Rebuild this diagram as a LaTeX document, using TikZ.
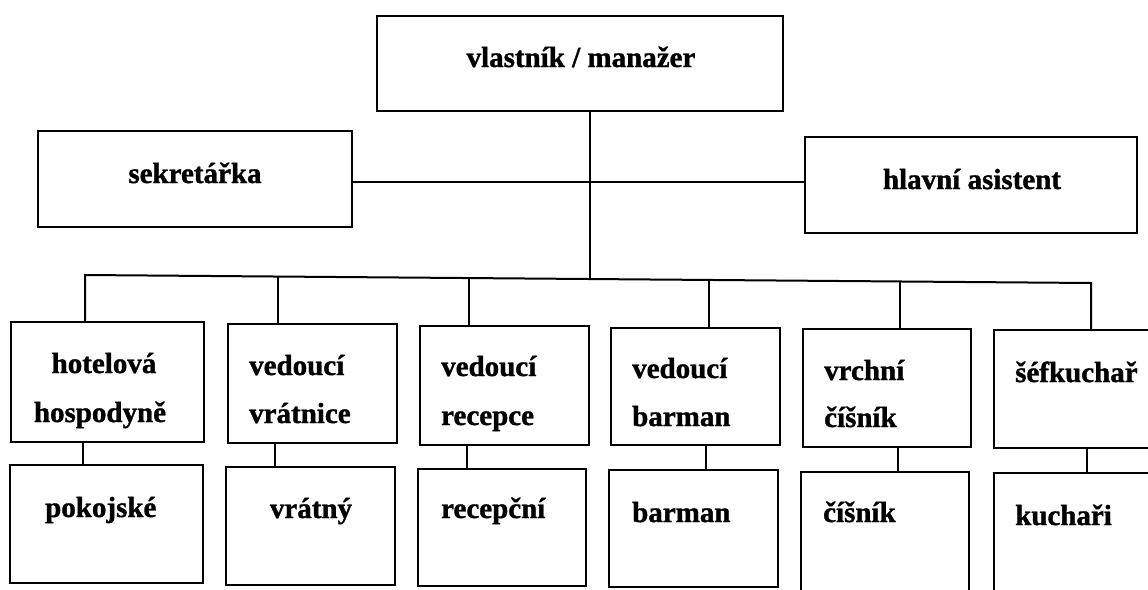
\documentclass[tikz,border=0pt]{standalone}
\usepackage{fontspec}
\setmainfont{Liberation Serif}[BoldFeatures={FakeBold=1.2}]
\begin{document}
\begin{tikzpicture}[x=1pt,y=-1pt,
  box/.style={draw, line width=2pt, rectangle, inner sep=0pt, outer sep=0pt, anchor=north west},
  lbl/.style={inner sep=0pt, font=\fontsize{29}{34}\selectfont\bfseries},
  link/.style={line width=2pt}]
\useasboundingbox (0,0) rectangle (1148,589);
\clip (0,0) rectangle (1148,589);
\fill[white] (0,0) rectangle (1148,589);
% top level
\node[box, minimum width=406pt, minimum height=95pt] (top) at (377,16) {};
\node[box, minimum width=314pt, minimum height=96pt] (sek) at (38,131) {};
\node[box, minimum width=332pt, minimum height=96pt] (hla) at (805,137) {};
\node[lbl, anchor=base] (ttop) at (581,67) {vlastník / manažer};
\node[lbl, anchor=base] (tsek) at (195,183) {sekretářka};
\node[lbl, anchor=base] (thla) at (972,189) {hlavní asistent};
% row 1
\node[box, minimum width=193pt, minimum height=120pt] (b1) at (11,322) {};
\node[box, minimum width=169pt, minimum height=119pt] (b2) at (228,324) {};
\node[box, minimum width=169pt, minimum height=119pt] (b3) at (420,326) {};
\node[box, minimum width=169pt, minimum height=117pt] (b4) at (611,328) {};
\node[box, minimum width=168pt, minimum height=118pt] (b5) at (803,329) {};
\node[box, minimum width=170pt, minimum height=118pt] (b6) at (994,330) {};
% row 2
\node[box, minimum width=193pt, minimum height=118pt] (c1) at (10,465) {};
\node[box, minimum width=169pt, minimum height=118pt] (c2) at (226,467) {};
\node[box, minimum width=168pt, minimum height=117pt] (c3) at (418,469) {};
\node[box, minimum width=169pt, minimum height=117pt] (c4) at (609,470) {};
\node[box, minimum width=168pt, minimum height=130pt] (c5) at (801,472) {};
\node[box, minimum width=170pt, minimum height=130pt] (c6) at (994,473) {};
% texts row 1
\node[lbl, anchor=base] (t1a) at (104,373) {hotelová};
\node[lbl, anchor=base] (t1b) at (100,422) {hospodyně};
\node[lbl, anchor=base west] (t2a) at (249,375) {vedoucí};
\node[lbl, anchor=base west] (t2b) at (249,423) {vrátnice};
\node[lbl, anchor=base west] (t3a) at (441,376) {vedoucí};
\node[lbl, anchor=base west] (t3b) at (441,425) {recepce};
\node[lbl, anchor=base west] (t4a) at (632,378) {vedoucí};
\node[lbl, anchor=base west] (t4b) at (632,426) {barman};
\node[lbl, anchor=base west] (t5a) at (824,380) {vrchní};
\node[lbl, anchor=base west] (t5b) at (824,427) {číšník};
\node[lbl, anchor=base west] (t6a) at (1015,382) {šéfkuchař};
% texts row 2
\node[lbl, anchor=base west] (u1) at (45,517) {pokojské};
\node[lbl, anchor=base] (u2) at (311,518) {vrátný};
\node[lbl, anchor=base west] (u3) at (441,518) {recepční};
\node[lbl, anchor=base west] (u4) at (632,522) {barman};
\node[lbl, anchor=base west] (u5) at (823,522) {číšník};
\node[lbl, anchor=base west] (u6) at (1015,525) {kuchaři};
% connectors
\coordinate (j) at (590,182);
\coordinate (m) at (590,279);
\coordinate (barL) at (85,275);
\coordinate (barR) at (1091,283);
\coordinate (d2) at (278,276.5);
\coordinate (d3) at (469,278.1);
\coordinate (d4) at (709,280);
\coordinate (d5) at (900,281.5);
\draw[link] (top.south -| m) -- (m);
\draw[link] (sek.east |- j) -- (hla.west |- j);
\draw[link] (barL |- b1.north) -- (barL) -- (barR) -- (barR |- b6.north);
\draw[link] (d2) -- (d2 |- b2.north);
\draw[link] (d3) -- (d3 |- b3.north);
\draw[link] (d4) -- (d4 |- b4.north);
\draw[link] (d5) -- (d5 |- b5.north);
\coordinate (e1) at (83,455);
\coordinate (e2) at (275,455);
\coordinate (e3) at (467,457);
\coordinate (e4) at (706,458);
\coordinate (e5) at (898,460);
\coordinate (e6) at (1087,460);
\draw[link] (b1.south -| e1) -- (c1.north -| e1);
\draw[link] (b2.south -| e2) -- (c2.north -| e2);
\draw[link] (b3.south -| e3) -- (c3.north -| e3);
\draw[link] (b4.south -| e4) -- (c4.north -| e4);
\draw[link] (b5.south -| e5) -- (c5.north -| e5);
\draw[link] (b6.south -| e6) -- (c6.north -| e6);
\end{tikzpicture}
\end{document}
